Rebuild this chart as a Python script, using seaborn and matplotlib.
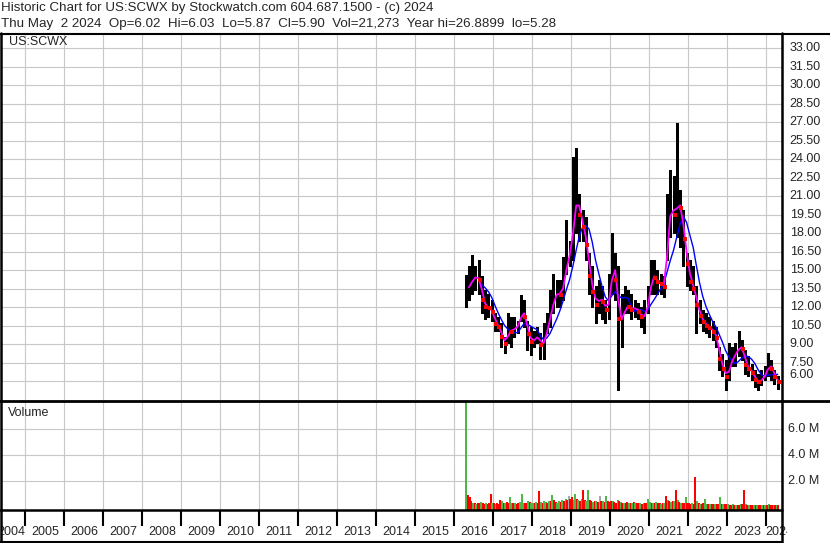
import numpy as np
import pandas as pd
import matplotlib
matplotlib.use("Agg")
import matplotlib.pyplot as plt
import seaborn as sns
from matplotlib.lines import Line2D

# ---------------- data ----------------
month_start = "2016-04-01"
month_end = "2024-04-01"

price_hi = [14.6, 15.3, 16.2, 15.3, 15.8, 14.5, 13.4, 13.1, 12.6,
            11.5, 11.2, 10.7, 9.6, 11.5, 11.2, 11.2, 10.9, 13.0, 12.6, 10.9, 10.4,
            10.1, 10.4, 9.9, 10.7, 11.5, 13.4, 14.7, 14.2, 14.2, 16.1, 19.1, 17.4,
            24.2, 24.9, 21.2, 19.9, 19.3, 16.4, 15.3, 13.7, 14.2, 13.7, 12.6, 14.7,
            18.0, 16.4, 15.3, 13.1, 13.7, 13.4, 13.1, 12.6, 12.3, 12.0, 12.6, 13.7,
            15.8, 15.8, 15.0, 14.7, 14.5, 21.2, 23.1, 22.6, 26.9, 21.5, 19.9, 16.4,
            15.8, 15.3, 13.7, 12.6, 11.8, 11.5, 11.2, 10.9, 10.4, 8.8, 8.2, 7.7,
            9.1, 8.8, 9.1, 10.1, 9.3, 8.5, 8.0, 7.4, 6.9, 6.6, 6.9, 7.2,
            8.3, 7.7, 6.9, 6.4]
price_lo = [12.0, 12.6, 13.1, 13.4, 13.1, 11.5, 11.0, 11.2, 10.9,
            10.1, 10.1, 8.8, 8.3, 9.1, 8.8, 9.6, 9.9, 10.9, 10.4, 8.5, 8.1,
            8.8, 9.1, 7.8, 7.8, 9.9, 10.4, 11.5, 12.0, 12.0, 12.6, 14.7, 15.3,
            15.8, 18.0, 17.4, 17.4, 15.8, 13.1, 12.0, 10.7, 11.5, 11.0, 10.7, 11.0,
            13.1, 12.6, 5.3, 8.8, 11.5, 11.5, 11.0, 11.2, 11.0, 10.4, 9.9, 11.5,
            13.1, 13.1, 13.1, 13.1, 12.8, 15.8, 17.7, 18.0, 17.7, 16.9, 15.3, 13.7,
            13.4, 13.1, 9.9, 10.7, 10.1, 9.9, 9.6, 9.3, 8.8, 6.9, 6.4, 5.3,
            6.1, 7.2, 7.2, 8.0, 7.7, 6.6, 6.4, 6.1, 5.5, 5.3, 5.7, 6.1,
            6.4, 6.1, 5.8, 5.4]
price_cl = [13.4, 13.8, 14.3, 14.5, 14.2, 12.6, 12.0, 11.9, 11.6,
            10.6, 10.4, 9.6, 9.0, 10.2, 10.0, 10.4, 10.4, 11.8, 11.2, 9.8, 9.2,
            9.4, 9.7, 8.9, 9.2, 10.5, 11.5, 12.8, 13.2, 13.0, 14.0, 16.0, 16.3,
            19.5, 21.0, 19.5, 18.5, 17.0, 14.5, 13.2, 12.2, 12.8, 12.4, 11.8, 12.6,
            15.8, 14.2, 11.0, 11.0, 12.2, 12.0, 11.8, 12.0, 11.6, 11.2, 11.3, 12.6,
            14.6, 14.4, 14.0, 13.9, 13.6, 18.5, 20.2, 19.5, 20.5, 20.0, 17.5, 15.5,
            14.0, 13.5, 12.2, 11.3, 10.8, 10.5, 10.3, 10.0, 9.5, 7.8, 7.0, 6.3,
            7.2, 8.0, 8.2, 8.9, 8.6, 7.3, 7.0, 6.7, 6.1, 5.9, 6.2, 6.5,
            7.4, 7.0, 6.3, 5.9]

vol_start = "2016-04-15"
vol_end = "2024-04-15"
volume_k = [8600, 900, 700, 400, 300, 250, 200, 300, 250, 350, 250, 200, 250, 200, 300, 1000, 300,
            250, 200, 250, 200, 500, 400, 300, 250, 350, 300, 700, 300, 250, 300, 200, 250, 350, 1000, 300, 250, 300, 400, 350, 300,
            300, 250, 350, 300, 1200, 350, 300, 400, 350, 300, 450, 400, 900, 500, 350, 300, 400, 350, 500, 450, 600, 500, 800, 600,
            700, 500, 1000, 600, 500, 450, 600, 1300, 500, 400, 1300, 500, 400, 350, 450, 400, 350, 800, 450, 400, 350, 800, 400, 350,
            450, 400, 350, 300, 500, 450, 350, 300, 300, 250, 350, 300, 250, 300, 350, 300, 250, 300, 250, 200, 300, 250, 300, 600,
            350, 300, 250, 300, 350, 300, 250, 200, 300, 250, 800, 500, 400, 350, 450, 400, 1300, 500, 350, 300, 300, 250, 700, 300,
            250, 200, 250, 200, 2300, 400, 250, 200, 200, 250, 600, 200, 150, 200, 150, 200, 150, 200, 150, 700, 200, 150, 150, 200,
            150, 120, 120, 150, 120, 100, 120, 100, 150, 200, 1300, 200, 120, 100, 100, 120, 100, 80, 100, 80, 90, 80, 100, 90,
            120, 150, 120, 100, 100, 120, 90, 100]
volume_dir = ("grrrgrgrrgrrgrrrg"
              "rgrrrgrgrrggrgrrgggrrgrg"
              "grgrrgrggrgrgrrggrgrgrnr"
              "rggrgrgrrggrrgrgrnrgrgrr"
              "rgrrgrgrgrrgrgrgrrgrgrrg"
              "grgrgrrgrgrgrgrgrgrgrrgr"
              "rrgrrgrgrrggrgrrgrrgrgrr"
              "grrgrgrrgrrgrgrrgrgrrgrg"
              "rgrrgrgr")

price_ticks = [6.0, 7.5, 9.0, 10.5, 12.0, 13.5, 15.0, 16.5, 18.0, 19.5, 21.0,
               22.5, 24.0, 25.5, 27.0, 28.5, 30.0, 31.5, 33.0]
vol_ticks = [2.0e6, 4.0e6, 6.0e6]
year_labels = list(range(2004, 2025))

title_line1 = "Historic Chart for US:SCWX by Stockwatch.com 604.687.1500 - (c) 2024"
title_line2 = "Thu May  2 2024  Op=6.02  Hi=6.03  Lo=5.87  Cl=5.90  Vol=21,273  Year hi=26.8899  lo=5.28"

# ---------------- helpers ----------------
def frac_year(d):
    d = pd.DatetimeIndex(d)
    return d.year + (d.dayofyear - 1) / 365.25

months = pd.date_range(month_start, month_end, freq="MS")
t_price = frac_year(months + pd.Timedelta(days=14))
vdates = pd.date_range(vol_start, vol_end, freq="SMS")
t_vol = frac_year(vdates + pd.Timedelta(days=7))

df = pd.DataFrame({"t": t_price, "hi": price_hi, "lo": price_lo, "cl": price_cl})
df["ma_short"] = df["cl"].rolling(2).mean()
df["ma_long"] = df["cl"].rolling(6).mean()
df["down"] = df["cl"].diff().fillna(0) < 0

dv = pd.DataFrame({"t": t_vol, "vol": np.array(volume_k) * 1000.0,
                   "dir": list(volume_dir)})
cmap = {"g": "#4db848", "r": "#ff0000", "n": "#a8a8a8"}

# ---------------- figure ----------------
sns.set_style("white")
plt.rcParams["font.family"] = ["Liberation Sans", "DejaVu Sans"]

W, H = 830.0, 543.0
fig = plt.figure(figsize=(W / 100, H / 100), dpi=100)
fig.patch.set_facecolor("white")

def rect(x0, y0, x1, y1):
    return [x0 / W, 1 - y1 / H, (x1 - x0) / W, (y1 - y0) / H]

PX = 39.0  # pixels per year
XL = (2004.40, 2024.40)
ax_p = fig.add_axes(rect(2, 34, 782, 400))
ax_v = fig.add_axes(rect(2, 402, 782, 510))
ax_x = fig.add_axes(rect(2, 510, 787, 541))

grid_c = "#c8c8c8"
years = np.arange(2005, 2025)

for ax in (ax_p, ax_v, ax_x):
    ax.set_xlim(*XL)
    for s in ax.spines.values():
        s.set_visible(False)
    ax.set_facecolor("white")
ax_x.set_xlim(XL[0], XL[1] + 5 / PX)
ax_x.patch.set_alpha(0)

# price panel
ax_p.set_ylim(4.47, 34.15)
ax_p.set_xticks(years)
ax_p.set_yticks(price_ticks)
ax_p.grid(True, color=grid_c, lw=0.8)
ax_p.tick_params(axis="both", length=0, labelbottom=False, labelleft=False,
                 labelright=False)
ax_p.vlines(df["t"], df["lo"], df["hi"], color="black", lw=2.1,
            antialiased=False, zorder=3)
sns.lineplot(data=df, x="t", y="ma_long", color="#0000ff", lw=1.0, ax=ax_p, zorder=4)
sns.lineplot(data=df, x="t", y="ma_short", color="#ff00ff", lw=1.3, ax=ax_p, zorder=5)
dd = df[df["down"]]
sns.scatterplot(x=dd["t"] + 0.03, y=dd["cl"], color="red", marker="s", s=5,
                linewidth=0, ax=ax_p, zorder=6)
ax_p.set_xlabel("")
ax_p.set_ylabel("")
for v in price_ticks:
    off = 6 if v == 6.0 else 0
    ax_p.annotate(f"{v:.2f}", xy=(1, v), xycoords=("axes fraction", "data"),
                  xytext=(5.5, off * 0.72), textcoords="offset points",
                  ha="left", va="center", fontsize=9, annotation_clip=False)
ax_p.text(7 / 780, 1 - 8 / 366, "US:SCWX", transform=ax_p.transAxes,
          ha="left", va="center", fontsize=9)

# volume panel
vlow = -0.28e6
ax_v.set_ylim(vlow, 8.1e6)
ax_v.set_xticks(years)
ax_v.set_yticks(vol_ticks)
ax_v.grid(True, color=grid_c, lw=0.8)
ax_v.tick_params(axis="both", length=0, labelbottom=False, labelleft=False,
                 labelright=False)
ax_v.bar(dv["t"], dv["vol"] - vlow, bottom=vlow, width=0.05,
         color=[cmap[c] for c in dv["dir"]], linewidth=0, antialiased=False,
         zorder=3)
for v in vol_ticks:
    ax_v.annotate(f"{v / 1e6:.1f} M", xy=(1, v), xycoords=("axes fraction", "data"),
                  xytext=(4.5, 0), textcoords="offset points",
                  ha="left", va="center", fontsize=9, annotation_clip=False)
ax_v.text(6 / 780, 1 - 11 / 108, "Volume", transform=ax_v.transAxes,
          ha="left", va="center", fontsize=9)

# year axis
ax_x.set_ylim(0, 1)
ax_x.set_xticks([])
ax_x.set_yticks([])
ax_x.vlines(years, 0.5, 1.0, color="black", lw=1.5)
for y in year_labels:
    if y == year_labels[0]:
        x, ha = y + 1 - 0.01, "right"
    elif y == year_labels[-1]:
        x, ha = y - 0.03, "left"
    else:
        x, ha = y + 0.5, "center"
    ax_x.text(x, 0.3, str(y), ha=ha, va="center", fontsize=9, clip_on=True)

# frame lines
def hline(y, x0, x1, lw):
    fig.add_artist(Line2D([x0 / W, x1 / W], [1 - y / H, 1 - y / H],
                          transform=fig.transFigure, color="black", lw=lw))

def vline(x, y0, y1, lw):
    fig.add_artist(Line2D([x / W, x / W], [1 - y0 / H, 1 - y1 / H],
                          transform=fig.transFigure, color="black", lw=lw))

hline(33.5, 0, 830, 1.5)
hline(401, 0, 830, 2.0)
hline(510, 0, 782, 1.8)
hline(541.5, 0, 782, 1.5)
vline(782, 33, 543, 1.8)
vline(1, 33, 543, 1.8)

fig.text(1 / W, 1 - 8 / H, title_line1, ha="left", va="center", fontsize=9.6)
fig.text(1 / W, 1 - 24 / H, title_line2, ha="left", va="center", fontsize=9.6)

fig.savefig("out.png", dpi=100, facecolor="white")
